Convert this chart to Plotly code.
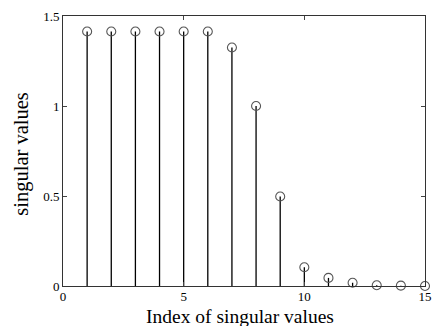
import plotly.graph_objects as go

index = list(range(1, 16))
singular_values = [1.414, 1.414, 1.414, 1.414, 1.414, 1.414, 1.325, 1.0, 0.497,
                   0.104, 0.045, 0.018, 0.004, 0.002, 0.0]
x_ticks = [0, 5, 10, 15]
y_ticks = [0, 0.5, 1, 1.5]
y_tick_labels = ["0", "0.5", "1", "1.5"]
x_title = "Index of singular values"
y_title = "singular values"

stem_x, stem_y = [], []
for xi, yi in zip(index, singular_values):
    stem_x += [xi, xi, None]
    stem_y += [0, yi, None]

fig = go.Figure()
fig.add_trace(go.Scatter(x=stem_x, y=stem_y, mode="lines",
                         line=dict(color="black", width=1.3), hoverinfo="skip"))
fig.add_trace(go.Scatter(x=index, y=singular_values, mode="markers", cliponaxis=False,
                         marker=dict(symbol="circle-open", size=9, color="#555555",
                                     line=dict(width=1.1, color="#555555"))))

font = dict(family="Liberation Serif, Times New Roman, serif", color="black")
axis_common = dict(ticks="inside", ticklen=4, showgrid=False, zeroline=False,
                   showline=True, linecolor="#333333", linewidth=1, mirror="ticks",
                   tickfont=dict(**font, size=13), ticklabeloverflow="allow")
fig.update_layout(
    width=441, height=326, showlegend=False,
    paper_bgcolor="white", plot_bgcolor="white",
    margin=dict(l=63, r=9, t=11, b=40),
    font=dict(**font, size=13),
    xaxis=dict(range=[0, 15], tickvals=x_ticks, ticklabelstandoff=-2, **axis_common),
    yaxis=dict(range=[0, 1.5], tickvals=y_ticks, ticktext=y_tick_labels, **axis_common),
    annotations=[
        dict(text=x_title, xref="paper", yref="paper", x=0.49, y=-0.112,
             xanchor="center", yanchor="middle", showarrow=False,
             font=dict(**font, size=19.5)),
        dict(text=y_title, xref="paper", yref="paper", x=-0.114, y=0.489,
             xanchor="center", yanchor="middle", textangle=-90, showarrow=False,
             font=dict(**font, size=20.5)),
    ],
)
fig.write_html("out.html", config={"displayModeBar": False},
               post_script="document.body.style.margin='0';")
